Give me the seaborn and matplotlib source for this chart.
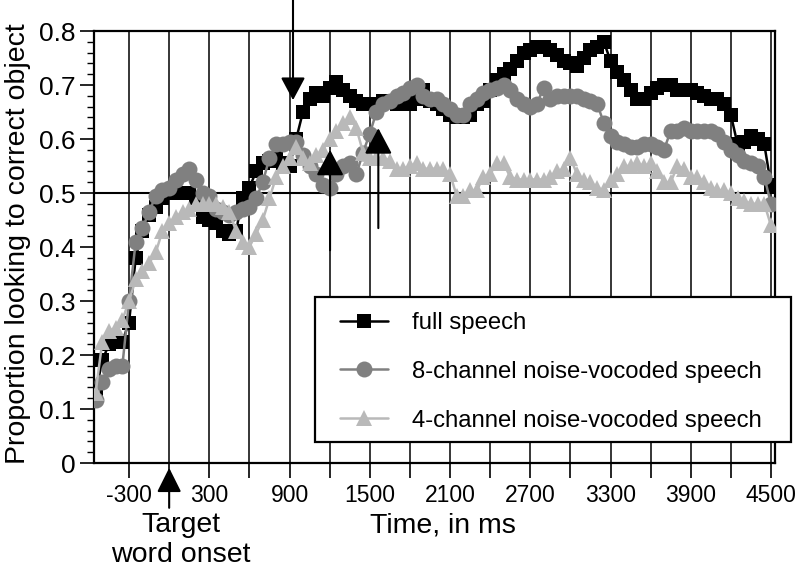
import matplotlib
matplotlib.use("Agg")
import matplotlib.pyplot as plt
from matplotlib.ticker import MultipleLocator, FuncFormatter
from matplotlib.patches import Rectangle
import seaborn as sns
import pandas as pd

# ---- data ----
time_ms = list(range(-550, 4501, 50))

full_speech = [
    0.13, 0.19, 0.22, 0.225, 0.225, 0.26, 0.38, 0.43, 0.46, 0.475,
    0.49, 0.50, 0.50, 0.50, 0.50, 0.49, 0.455, 0.45, 0.445, 0.43,
    0.425, 0.43, 0.49, 0.51, 0.54, 0.555, 0.56, 0.565, 0.555, 0.55,
    0.60, 0.65, 0.675, 0.685, 0.68, 0.695, 0.705, 0.69, 0.68, 0.67,
    0.665, 0.665, 0.665, 0.67, 0.67, 0.665, 0.665, 0.665, 0.675, 0.69,
    0.67, 0.665, 0.655, 0.645, 0.64, 0.64, 0.645, 0.665, 0.67, 0.69,
    0.71, 0.72, 0.73, 0.745, 0.76, 0.765, 0.77, 0.77, 0.765, 0.755,
    0.745, 0.74, 0.735, 0.75, 0.765, 0.77, 0.78, 0.745, 0.725, 0.71,
    0.69, 0.675, 0.675, 0.685, 0.695, 0.70, 0.70, 0.69, 0.69, 0.69,
    0.685, 0.68, 0.675, 0.675, 0.665, 0.645, 0.59, 0.595, 0.605, 0.60,
    0.59, 0.515]

ch8_speech = [
    0.117, 0.15, 0.175, 0.18, 0.18, 0.30, 0.41, 0.435, 0.465, 0.495,
    0.505, 0.51, 0.525, 0.535, 0.545, 0.525, 0.50, 0.495, 0.47, 0.465,
    0.46, 0.465, 0.47, 0.475, 0.49, 0.52, 0.565, 0.59, 0.59, 0.595,
    0.595, 0.57, 0.55, 0.535, 0.515, 0.51, 0.535, 0.55, 0.555, 0.535,
    0.575, 0.61, 0.65, 0.665, 0.67, 0.68, 0.685, 0.695, 0.70, 0.68,
    0.675, 0.675, 0.665, 0.655, 0.645, 0.645, 0.665, 0.675, 0.685, 0.69,
    0.695, 0.70, 0.69, 0.675, 0.665, 0.66, 0.665, 0.695, 0.675, 0.68,
    0.68, 0.68, 0.68, 0.675, 0.67, 0.665, 0.63, 0.605, 0.595, 0.59,
    0.585, 0.585, 0.59, 0.59, 0.585, 0.58, 0.615, 0.615, 0.62, 0.615,
    0.615, 0.615, 0.615, 0.61, 0.595, 0.58, 0.57, 0.56, 0.555, 0.55,
    0.53, 0.48]

ch4_speech = [
    0.13, 0.225, 0.245, 0.25, 0.265, 0.30, 0.34, 0.355, 0.37, 0.39,
    0.43, 0.445, 0.455, 0.465, 0.47, 0.48, 0.48, 0.48, 0.48, 0.475,
    0.465, 0.43, 0.41, 0.40, 0.425, 0.45, 0.49, 0.53, 0.55, 0.565,
    0.585, 0.565, 0.555, 0.57, 0.58, 0.60, 0.615, 0.63, 0.64, 0.62,
    0.575, 0.565, 0.565, 0.565, 0.56, 0.545, 0.545, 0.55, 0.555, 0.545,
    0.545, 0.545, 0.545, 0.535, 0.495, 0.495, 0.505, 0.505, 0.53, 0.535,
    0.555, 0.555, 0.53, 0.525, 0.525, 0.525, 0.525, 0.525, 0.53, 0.54,
    0.545, 0.565, 0.535, 0.525, 0.52, 0.51, 0.505, 0.525, 0.535, 0.55,
    0.55, 0.555, 0.55, 0.555, 0.54, 0.52, 0.52, 0.55, 0.545, 0.53,
    0.53, 0.52, 0.51, 0.505, 0.505, 0.50, 0.49, 0.485, 0.48, 0.48,
    0.48, 0.44]

series_labels = ["full speech",
                 "8-channel noise-vocoded speech",
                 "4-channel noise-vocoded speech"]

# arrows (time in ms, tail value, tip value)
arrow_down_t, arrow_down_tip = 926, 0.672
arrow_up1_t, arrow_up1_tail, arrow_up1_tip = 1203, 0.394, 0.58
arrow_up2_t, arrow_up2_tail, arrow_up2_tip = 1564, 0.435, 0.62

# ---- style ----
sns.set_theme(style="white")
plt.rcParams["font.family"] = ["Liberation Sans", "DejaVu Sans"]
plt.rcParams["text.color"] = "black"
plt.rcParams["xtick.color"] = "black"
plt.rcParams["ytick.color"] = "black"
plt.rcParams["axes.labelcolor"] = "black"
FS_LEG = 17.2
FS_XT = 16.5
FS_YT = 19
FS_LAB = 20.5

fig = plt.figure(figsize=(8, 5.7), dpi=100)
ax = fig.add_axes([0.1175, 0.1877, 0.85125, 0.7579])

styles = [
    (full_speech, "#000000", "s", 9.5),
    (ch8_speech, "#808080", "o", 11.5),
    (ch4_speech, "#b9b9b9", "^", 11.0),
]
for (vals, col, mk, ms), lab in zip(styles, series_labels):
    df = pd.DataFrame({"t": time_ms, "v": vals})
    sns.lineplot(data=df, x="t", y="v", ax=ax, color=col, marker=mk,
                 markersize=ms, markeredgewidth=0, linewidth=1.8,
                 label=lab, zorder=3)

ax.set_xlim(-562, 4530)
ax.set_ylim(0, 0.8)

# x ticks every 300, labels every 600
ax.xaxis.set_major_locator(MultipleLocator(300))
ax.xaxis.set_major_formatter(FuncFormatter(
    lambda v, p: f"{int(round(v))}" if int(round(v + 300)) % 600 == 0 else ""))
ax.yaxis.set_major_locator(MultipleLocator(0.1))
ax.yaxis.set_minor_locator(MultipleLocator(0.02))
ax.yaxis.set_major_formatter(FuncFormatter(
    lambda v, p: "0" if abs(v) < 1e-9 else f"{v:.1f}"))

ax.tick_params(axis="x", which="major", direction="out", length=11,
               width=1.2, color="black", labelcolor="black",
               labelsize=FS_XT, pad=4, bottom=True)
ax.tick_params(axis="y", which="major", direction="out", length=10,
               width=1.2, color="black", labelcolor="black",
               labelsize=FS_YT, pad=3, left=True)
ax.tick_params(axis="y", which="minor", direction="out", length=5,
               width=1.0, color="black", left=True)

ax.xaxis.grid(True, color="black", linewidth=1.1, zorder=1)
ax.yaxis.grid(False)
ax.axhline(0.5, color="black", linewidth=1.5, zorder=2)

for s in ax.spines.values():
    s.set_visible(True)
    s.set_color("black")
    s.set_linewidth(1.6)

ax.set_xlabel("")
ax.set_ylabel("")

# arrows
def arrow(x0, y0, x1, y1, hl=14, hw=7.5):
    ax.annotate("", xy=(x1, y1), xytext=(x0, y0), xycoords="data",
                textcoords="data", annotation_clip=False,
                arrowprops=dict(arrowstyle=f"-|>,head_length={hl/10},head_width={hw/10}",
                                mutation_scale=10, color="black", lw=1.5,
                                shrinkA=0, shrinkB=0), zorder=5)

arrow(arrow_down_t, 0.86, arrow_down_t, arrow_down_tip)
arrow(arrow_up1_t, arrow_up1_tail, arrow_up1_t, arrow_up1_tip, hl=16, hw=8.5)
arrow(arrow_up2_t, arrow_up2_tail, arrow_up2_t, arrow_up2_tip, hl=16, hw=8.5)
arrow(0, -0.083, 0, -0.009, hl=15, hw=7.5)

# texts
fig.text(181 / 800, 1 - 540 / 570, "Target\nword onset", ha="center",
         va="center", fontsize=FS_LAB, linespacing=1.15, color="black")
fig.text(443 / 800, 1 - 525 / 570, "Time, in ms", ha="center", va="center",
         fontsize=FS_LAB, color="black")
fig.text(18 / 800, 1 - 244 / 570, "Proportion looking to correct object",
         rotation=90, ha="center", va="center", fontsize=FS_LAB, color="black")

# legend: frame drawn as a separate rectangle (inside the axes draw order)
frame = Rectangle((315 / 800, 1 - 442 / 570), 476 / 800, 145 / 570,
                  transform=fig.transFigure, facecolor="white",
                  edgecolor="black", linewidth=1.6, zorder=8, clip_on=False)
ax.add_patch(frame)
leg = ax.legend(loc="upper left", bbox_to_anchor=(340 / 800, 1 - 312 / 570),
                bbox_transform=fig.transFigure, fontsize=FS_LEG, frameon=False,
                handlelength=2.0, handletextpad=1.0, labelspacing=1.12,
                borderpad=0, borderaxespad=0, numpoints=1)
for txt in leg.get_texts():
    txt.set_color("black")
leg.set_zorder(10)

fig.savefig("out.png", dpi=100)
